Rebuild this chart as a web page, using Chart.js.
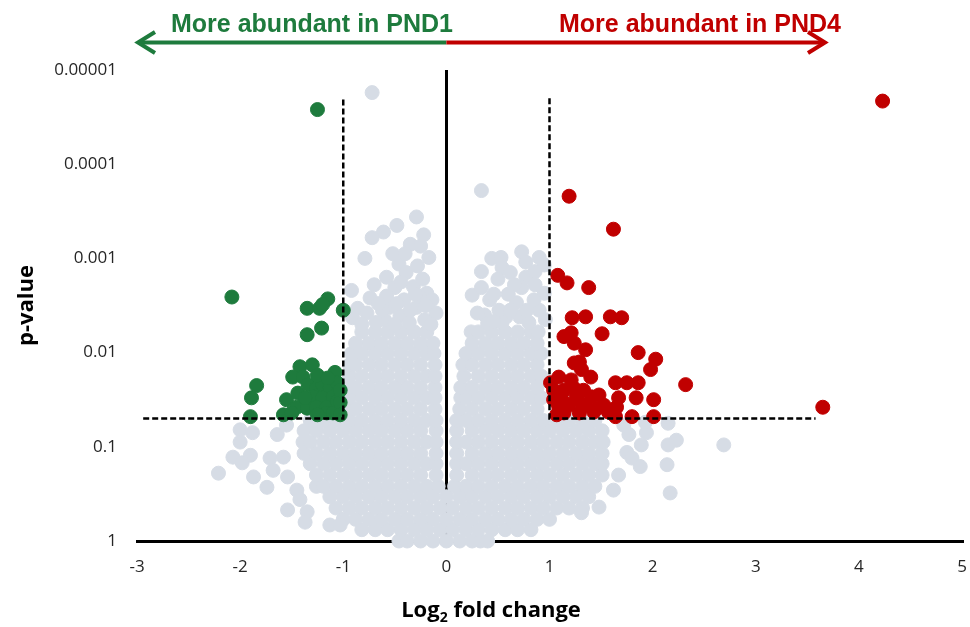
<!DOCTYPE html>
<html lang="en">
<head>
<meta charset="UTF-8">
<title>Volcano plot PND1 vs PND4</title>
<script src="https://cdn.jsdelivr.net/npm/chart.js"></script>
<style>
  html, body { margin: 0; padding: 0; background: #fff; }
</style>
</head>
<body>
<canvas id="volcano" width="970" height="627"></canvas>
<script>
// axis labels: y is -log10(p), shown as the p-value itself
const yTickLabels = ['1', '0.1', '0.01', '0.001', '0.0001', '0.00001'];
const xTickValues = [-3, -2, -1, 0, 1, 2, 3, 4, 5];

// cut-offs (p = 0.05 -> 1.3, |log2 FC| = 1)
const thresholdLeft = [[-2.94, 1.3], [-1, 1.3], [-1, 4.7]];
const thresholdRight = [[1, 4.7], [1, 1.3], [3.58, 1.3]];

// grey cloud, dense part, rows of [y, x values]
const greyBaseRows = [
  [0.00, [-0.46, -0.38, -0.25, -0.13, 0, 0.13, 0.25, 0.33, 0.40]],
  [0.12, [-0.82, -0.69, -0.57, -0.44, -0.31, -0.19, -0.06, 0.06, 0.19, 0.31, 0.44, 0.57, 0.69, 0.82]],
  [0.23, [-1.00, -0.88, -0.75, -0.63, -0.50, -0.38, -0.25, -0.13, 0, 0.13, 0.25, 0.38, 0.50, 0.63, 0.75, 0.88, 1.00]],
  [0.35, [-1.07, -0.94, -0.82, -0.69, -0.57, -0.44, -0.31, -0.19, -0.06, 0.06, 0.19, 0.31, 0.44, 0.57, 0.69, 0.82, 0.94, 1.07, 1.19, 1.32]],
  [0.47, [-1.13, -1.00, -0.88, -0.75, -0.63, -0.50, -0.38, -0.25, -0.13, 0, 0.13, 0.25, 0.38, 0.50, 0.63, 0.75, 0.88, 1.00, 1.13, 1.26, 1.38]],
  [0.58, [-1.26, -1.19, -1.07, -0.94, -0.82, -0.69, -0.57, -0.44, -0.31, -0.19, -0.08, 0.08, 0.19, 0.31, 0.44, 0.57, 0.69, 0.82, 0.94, 1.07, 1.19, 1.32, 1.44]]
];
const greyLeftRows = [
  [0.70, [-1.26, -1.13, -1.00, -0.88, -0.75, -0.63, -0.50, -0.38, -0.25, -0.10]],
  [0.82, [-1.32, -1.19, -1.07, -0.94, -0.82, -0.69, -0.57, -0.44, -0.31, -0.19, -0.10]],
  [0.93, [-1.38, -1.26, -1.13, -1.00, -0.88, -0.75, -0.63, -0.50, -0.38, -0.25, -0.10]],
  [1.05, [-1.39, -1.32, -1.19, -1.07, -0.94, -0.82, -0.69, -0.57, -0.44, -0.31, -0.19, -0.10]],
  [1.17, [-1.38, -1.26, -1.13, -1.00, -0.88, -0.75, -0.63, -0.50, -0.38, -0.25, -0.10]],
  [1.28, [-1.32, -1.19, -1.07, -0.94, -0.82, -0.69, -0.57, -0.44, -0.31, -0.19, -0.10]],
  [1.40, [-0.95, -0.88, -0.75, -0.63, -0.50, -0.38, -0.25, -0.11]],
  [1.52, [-0.94, -0.82, -0.69, -0.57, -0.44, -0.31, -0.19, -0.11]],
  [1.63, [-0.95, -0.88, -0.75, -0.63, -0.50, -0.38, -0.25, -0.11]],
  [1.75, [-0.94, -0.82, -0.69, -0.57, -0.44, -0.31, -0.19, -0.11]],
  [1.87, [-0.94, -0.88, -0.75, -0.63, -0.50, -0.38, -0.25, -0.11]],
  [1.99, [-0.92, -0.82, -0.69, -0.57, -0.44, -0.31, -0.19, -0.12]],
  [2.10, [-0.88, -0.75, -0.63, -0.50, -0.38, -0.25, -0.13]],
  [2.22, [-0.82, -0.69, -0.57, -0.44, -0.31, -0.19]]
];
const greyRightRows = [
  [0.70, [0.10, 0.25, 0.38, 0.50, 0.63, 0.75, 0.88, 1.00, 1.13, 1.26, 1.38, 1.51]],
  [0.82, [0.10, 0.19, 0.31, 0.44, 0.57, 0.69, 0.82, 0.94, 1.07, 1.19, 1.32, 1.44, 1.51]],
  [0.93, [0.10, 0.25, 0.38, 0.50, 0.63, 0.75, 0.88, 1.00, 1.13, 1.26, 1.38, 1.51]],
  [1.05, [0.10, 0.19, 0.31, 0.44, 0.57, 0.69, 0.82, 0.94, 1.07, 1.19, 1.32, 1.44, 1.52]],
  [1.17, [0.10, 0.25, 0.38, 0.50, 0.63, 0.75, 0.88, 1.00, 1.13, 1.26, 1.38, 1.51]],
  [1.28, [0.10, 0.19, 0.31, 0.44, 0.57, 0.69, 0.82, 0.94, 1.07, 1.19, 1.32, 1.44]],
  [1.40, [0.13, 0.25, 0.38, 0.50, 0.63, 0.75, 0.88]],
  [1.52, [0.14, 0.19, 0.31, 0.44, 0.57, 0.69, 0.82, 0.92]],
  [1.63, [0.14, 0.25, 0.38, 0.50, 0.63, 0.75, 0.88]],
  [1.75, [0.17, 0.31, 0.44, 0.57, 0.69, 0.82, 0.92]],
  [1.87, [0.16, 0.25, 0.38, 0.50, 0.63, 0.75, 0.88]],
  [1.99, [0.19, 0.31, 0.44, 0.57, 0.69, 0.82, 0.92]],
  [2.10, [0.25, 0.38, 0.50, 0.63, 0.75, 0.88]],
  [2.22, [0.24, 0.31, 0.44, 0.57, 0.69, 0.82, 0.89]]
];

// grey, loose points [log2FC, -log10 p]
const greyScatterLeft = [
  [-0.29, 3.44], [-0.48, 3.35], [-0.61, 3.28], [-0.72, 3.22], [-0.35, 3.15], [-0.25, 3.13],
  [-0.17, 3.01], [-0.79, 3.00], [-0.46, 2.94], [-0.39, 2.85], [-0.70, 2.72], [-0.92, 2.66],
  [-0.50, 2.69], [-0.32, 2.70], [-0.19, 2.63], [-0.14, 2.56], [-0.74, 2.58], [-0.86, 2.47],
  [-0.77, 2.42], [-0.91, 2.37], [-0.55, 2.48], [-0.45, 2.39], [-0.29, 2.48], [-0.10, 2.42],
  [-0.21, 2.35], [-0.36, 2.32], [-0.60, 2.35], [-0.41, 2.56], [-0.58, 2.60], [-0.26, 2.59],
  [-0.68, 2.32], [-0.50, 2.30], [-0.15, 2.30], [-0.82, 2.30], [-0.62, 2.45], [-0.35, 2.45],
  [-0.20, 2.50], [-0.48, 2.52], [-0.66, 2.52], [-0.30, 2.62], [-0.44, 2.75], [-0.23, 2.78],
  [-0.58, 2.80], [-0.28, 2.92], [-0.52, 3.05], [-0.40, 3.05], [-0.22, 3.25]
];
const greyScatterRight = [
  [0.44, 3.00], [0.53, 3.01], [0.54, 2.90], [0.73, 3.07], [0.77, 2.96], [0.90, 3.01],
  [0.34, 2.86], [0.25, 2.61], [0.34, 2.69], [0.42, 2.56], [0.68, 2.53], [0.77, 2.80],
  [0.73, 2.69], [0.95, 2.63], [0.37, 2.40], [0.58, 2.38], [0.40, 2.31], [0.54, 2.32],
  [0.71, 2.38], [0.80, 2.32], [0.95, 2.93], [0.90, 2.45], [0.51, 2.45], [0.85, 2.56],
  [0.96, 2.35], [0.66, 2.72], [0.30, 2.42], [0.46, 2.33], [0.62, 2.45], [0.78, 2.45],
  [0.46, 2.62], [0.60, 2.62], [0.86, 2.72], [0.50, 2.78], [0.62, 2.85], [0.86, 2.86]
];
const greyOutliers = [
  [-0.72, 4.76], [0.34, 3.72],
  [-2.00, 1.18], [-1.88, 1.15], [-2.00, 1.05], [-1.64, 1.13], [-2.07, 0.89], [-1.90, 0.91],
  [-1.98, 0.83], [-2.21, 0.72], [-1.87, 0.68], [-1.71, 0.88], [-1.58, 0.89], [-1.68, 0.75],
  [-1.74, 0.57], [-1.54, 0.68], [-1.45, 0.54], [-1.42, 0.44], [-1.54, 0.33], [-1.35, 0.31],
  [-1.13, 0.17], [-1.03, 0.17], [-1.55, 1.23], [-1.37, 0.20],
  [1.77, 1.13], [1.94, 1.15], [1.89, 1.02], [2.15, 1.25], [2.23, 1.07], [2.15, 1.02],
  [1.75, 0.94], [1.80, 0.88], [1.88, 0.79], [2.14, 0.81], [1.67, 0.70], [2.17, 0.51],
  [2.69, 1.02], [1.93, 1.26], [1.48, 0.36], [1.31, 0.30], [1.62, 0.54], [1.72, 1.23]
];

// more abundant in PND1
const greenPoints = [
  [-1.25, 4.58], [-2.08, 2.59], [-1.35, 2.47], [-1.23, 2.47], [-1.15, 2.57], [-1.20, 2.51],
  [-1.00, 2.45], [-1.35, 2.19], [-1.21, 2.26], [-1.42, 1.85], [-1.30, 1.87], [-1.49, 1.74],
  [-1.39, 1.74], [-1.08, 1.79], [-1.84, 1.65], [-1.89, 1.52], [-1.55, 1.50], [-1.44, 1.57],
  [-1.34, 1.66], [-1.26, 1.62], [-1.20, 1.66], [-1.13, 1.63], [-1.06, 1.68], [-1.29, 1.53],
  [-1.20, 1.52], [-1.10, 1.53], [-1.45, 1.42], [-1.35, 1.41], [-1.26, 1.42], [-1.16, 1.42],
  [-1.06, 1.48], [-1.90, 1.32], [-1.58, 1.34], [-1.50, 1.36], [-1.16, 1.36], [-1.10, 1.36],
  [-1.03, 1.47], [-1.25, 1.76], [-1.15, 1.73], [-1.03, 1.60], [-1.37, 1.52], [-1.03, 1.34],
  [-1.25, 1.34]
];

// more abundant in PND4
const redPoints = [
  [4.23, 4.67], [3.65, 1.42], [1.19, 3.66], [1.62, 3.31], [1.08, 2.82], [1.17, 2.74],
  [1.38, 2.69], [1.22, 2.37], [1.35, 2.38], [1.59, 2.38], [1.70, 2.37], [1.14, 2.17],
  [1.21, 2.21], [1.24, 2.10], [1.51, 2.20], [1.35, 2.03], [1.86, 2.00], [2.03, 1.93],
  [1.98, 1.82], [1.24, 1.89], [1.29, 1.90], [1.31, 1.82], [1.40, 1.74], [1.09, 1.74],
  [1.21, 1.71], [1.01, 1.68], [1.64, 1.68], [1.75, 1.68], [1.86, 1.68], [2.32, 1.66],
  [1.09, 1.53], [1.26, 1.53], [1.41, 1.53], [1.67, 1.52], [1.84, 1.52], [2.01, 1.50],
  [1.09, 1.42], [1.19, 1.44], [1.31, 1.46], [1.46, 1.41], [1.65, 1.42], [1.14, 1.36],
  [1.29, 1.36], [1.43, 1.37], [1.64, 1.32], [1.80, 1.32], [2.01, 1.32], [1.07, 1.34],
  [1.35, 1.44], [1.04, 1.60], [1.14, 1.60], [1.24, 1.62], [1.33, 1.60], [1.12, 1.50],
  [1.53, 1.44], [1.57, 1.37], [1.48, 1.55], [1.04, 1.50]
];

const GREY = '#d6dce5';
const GREEN = '#1e7b3d';
const RED = '#c00000';

const pairs = arr => arr.map(([x, y]) => ({ x, y }));
const rowsToPoints = rows => rows.flatMap(([y, xs]) => xs.map(x => ({ x, y })));

const greyData = [
  ...rowsToPoints(greyBaseRows),
  ...rowsToPoints(greyLeftRows),
  ...rowsToPoints(greyRightRows),
  ...pairs(greyScatterLeft),
  ...pairs(greyScatterRight),
  ...pairs(greyOutliers)
];

Chart.defaults.font.family = "'Open Sans', sans-serif";

// titles and the two arrows on top
const labelsPlugin = {
  id: 'volcanoLabels',
  afterDraw(chart) {
    const ctx = chart.ctx;
    const zeroX = chart.scales.x.getPixelForValue(0);
    ctx.save();

    // arrows
    ctx.lineWidth = 4;
    ctx.lineJoin = 'miter';
    ctx.strokeStyle = GREEN;
    ctx.beginPath();
    ctx.moveTo(zeroX, 42.5);
    ctx.lineTo(139, 42.5);
    ctx.stroke();
    ctx.beginPath();
    ctx.moveTo(155, 32);
    ctx.lineTo(138, 42.5);
    ctx.lineTo(155, 53);
    ctx.stroke();

    ctx.strokeStyle = RED;
    ctx.beginPath();
    ctx.moveTo(zeroX, 42.5);
    ctx.lineTo(824, 42.5);
    ctx.stroke();
    ctx.beginPath();
    ctx.moveTo(808, 32);
    ctx.lineTo(825, 42.5);
    ctx.lineTo(808, 53);
    ctx.stroke();

    ctx.font = "bold 25px 'Liberation Sans', Arial, sans-serif";
    ctx.textAlign = 'center';
    ctx.textBaseline = 'alphabetic';
    ctx.fillStyle = GREEN;
    ctx.fillText('More abundant in PND1', 312, 32);
    ctx.fillStyle = RED;
    ctx.fillText('More abundant in PND4', 700, 32);

    // x title with subscript
    ctx.fillStyle = '#000';
    ctx.textAlign = 'left';
    const big = "bold 22px 'Open Sans', sans-serif";
    const small = "bold 14px 'Open Sans', sans-serif";
    ctx.font = big;
    const w1 = ctx.measureText('Log').width;
    const w3 = ctx.measureText(' fold change').width;
    ctx.font = small;
    const w2 = ctx.measureText('2').width;
    let tx = 491 - (w1 + w2 + w3) / 2;
    ctx.font = big;
    ctx.fillText('Log', tx, 617);
    tx += w1;
    ctx.font = small;
    ctx.fillText('2', tx, 622);
    tx += w2;
    ctx.font = big;
    ctx.fillText(' fold change', tx, 617);

    // y title
    ctx.translate(27, chart.chartArea.top + (chart.chartArea.bottom - chart.chartArea.top) / 2);
    ctx.rotate(-Math.PI / 2);
    ctx.textAlign = 'center';
    ctx.textBaseline = 'middle';
    ctx.font = "bold 22px 'Open Sans', sans-serif";
    ctx.fillText('p-value', 0, 0);

    ctx.restore();
  }
};

const dotStyle = { pointRadius: 7, pointBorderWidth: 1, pointHoverRadius: 7, clip: false };
const dashStyle = {
  type: 'line', borderColor: '#000', borderWidth: 2.5, borderDash: [6, 3],
  pointRadius: 0, fill: false, tension: 0, clip: false, order: 0
};

new Chart(document.getElementById('volcano'), {
  type: 'scatter',
  data: {
    datasets: [
      { ...dashStyle, label: 'cut-off left', data: pairs(thresholdLeft) },
      { ...dashStyle, label: 'cut-off right', data: pairs(thresholdRight) },
      { ...dotStyle, label: 'PND1', data: pairs(greenPoints), backgroundColor: GREEN, borderColor: GREEN, order: 1 },
      { ...dotStyle, label: 'PND4', data: pairs(redPoints), backgroundColor: RED, borderColor: RED, order: 1 },
      { ...dotStyle, label: 'n.s.', data: greyData, backgroundColor: GREY, borderColor: GREY, order: 2 }
    ]
  },
  options: {
    responsive: false,
    animation: false,
    events: [],
    layout: { padding: { top: 70, right: 5, bottom: 0, left: 0 } },
    plugins: { legend: { display: false }, tooltip: { enabled: false } },
    scales: {
      x: {
        type: 'linear',
        min: -3,
        max: 5,
        afterBuildTicks: s => { s.ticks = xTickValues.map(v => ({ value: v })); },
        afterFit: s => { s.height = 86; s.paddingLeft = 0; s.paddingRight = 5; },
        ticks: { padding: 16, color: '#262626', font: { size: 17 } },
        grid: {
          drawTicks: false,
          lineWidth: 3,
          color: c => (c.tick && c.tick.value === 0) ? '#000' : 'rgba(0,0,0,0)'
        },
        border: { display: true, color: '#000', width: 3 }
      },
      y: {
        type: 'linear',
        min: 0,
        max: 5,
        afterFit: s => { s.width = 137; },
        ticks: {
          stepSize: 1,
          padding: 20,
          color: '#262626',
          font: { size: 17 },
          callback: v => yTickLabels[v]
        },
        grid: { display: false, drawTicks: false },
        border: { display: false }
      }
    }
  },
  plugins: [labelsPlugin]
});
</script>
</body>
</html>
